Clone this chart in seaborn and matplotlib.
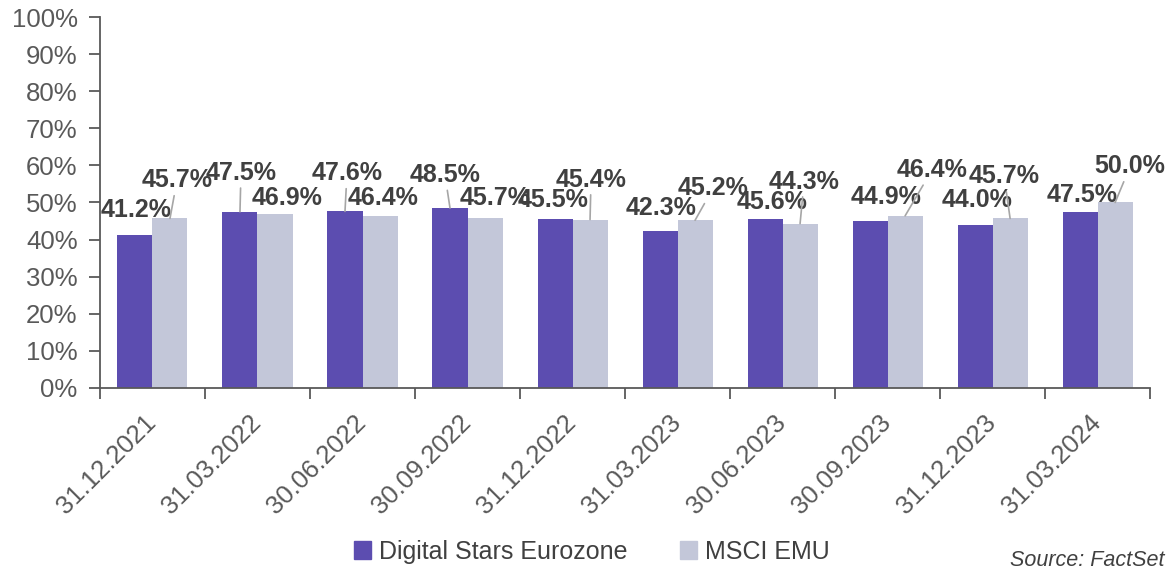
import matplotlib
matplotlib.use("Agg")
import matplotlib.pyplot as plt
import pandas as pd
import seaborn as sns
from matplotlib.ticker import FixedLocator, PercentFormatter

# data
dates = ["31.12.2021", "31.03.2022", "30.06.2022", "30.09.2022", "31.12.2022",
         "31.03.2023", "30.06.2023", "30.09.2023", "31.12.2023", "31.03.2024"]
digital_stars = [41.2, 47.5, 47.6, 48.5, 45.5, 42.3, 45.6, 44.9, 44.0, 47.5]
msci_emu = [45.7, 46.9, 46.4, 45.7, 45.4, 45.2, 44.3, 46.4, 45.7, 50.0]
series_names = ["Digital Stars Eurozone", "MSCI EMU"]

# label placement (pixel offsets from bar top) and whether a leader line is drawn
label_offsets = {
    0: [(1, 25), (1, 39), (2, 38), (-5, 33), (-2, 19), (1, 23), (7, 17), (16, 24), (2, 25), (2, 17)],
    1: [(7, 38), (12, 16), (3, 18), (10, 20), (1, 40), (18, 32), (4, 42), (27, 46), (-6, 42), (15, 36)],
}
leaders = {
    0: [False, True, True, True, False, False, False, False, False, False],
    1: [True, False, False, False, True, True, True, True, True, True],
}

df = pd.DataFrame({
    "date": dates * 2,
    "value": digital_stars + msci_emu,
    "series": [series_names[0]] * len(dates) + [series_names[1]] * len(dates),
})

sns.set_theme(style="white")
plt.rcParams["font.family"] = ["Liberation Sans", "DejaVu Sans"]

text_col = "#595959"
colors = ["#5C4DB0", "#C3C7D9"]
fig = plt.figure(figsize=(11.76, 5.73), dpi=100)
ax = fig.add_axes([0.085, 0.3229, 0.893, 0.6474])

sns.barplot(data=df, x="date", y="value", hue="series", ax=ax, width=0.667,
            palette=colors, saturation=1, legend=False, linewidth=0)

ax.set_ylim(0, 100)
ax.set_xlim(-0.5, len(dates) - 0.5)
ax.yaxis.set_major_locator(FixedLocator(range(0, 101, 10)))
ax.yaxis.set_major_formatter(PercentFormatter(decimals=0))
ax.set_xlabel("")
ax.set_ylabel("")

for side in ["top", "right"]:
    ax.spines[side].set_visible(False)
for side in ["left", "bottom"]:
    ax.spines[side].set_color("#595959")
    ax.spines[side].set_linewidth(1.3)

ax.tick_params(axis="y", direction="out", length=8, width=1.3, color="#595959",
               labelsize=18.5, labelcolor=text_col, pad=8, left=True)
ax.xaxis.set_minor_locator(FixedLocator([i - 0.5 for i in range(len(dates) + 1)]))
ax.tick_params(axis="x", which="minor", direction="out", length=8, width=1.3,
               color="#595959", bottom=True)
ax.tick_params(axis="x", which="major", length=0, labelsize=18.5, labelcolor=text_col, pad=22)
for lbl in ax.get_xticklabels():
    lbl.set_rotation(45)
    lbl.set_ha("right")
    lbl.set_va("center")
    lbl.set_rotation_mode("anchor")

for k, cont in enumerate(ax.containers):
    for i, bar in enumerate(cont):
        x = bar.get_x() + bar.get_width() / 2
        h = bar.get_height()
        arrow = dict(arrowstyle="-", color="#A6A6A6", lw=1.2, shrinkA=0, shrinkB=0) if leaders[k][i] else None
        ax.annotate(f"{h:.1f}%", xy=(x, h), xytext=label_offsets[k][i],
                    textcoords="offset pixels", ha="center", va="center",
                    fontsize=18, fontweight="bold", color="#404040",
                    arrowprops=arrow, annotation_clip=False)

handles = [plt.Rectangle((0, 0), 1, 1, color=c) for c in colors]
fig.legend(handles, series_names, loc="center", bbox_to_anchor=(0.503, 0.037), ncol=2,
           frameon=False, fontsize=18, handlelength=0.7, handleheight=0.7,
           handletextpad=0.3, columnspacing=2.1, labelcolor="#404040")

fig.text(0.99, 0.003, "Source: FactSet", ha="right", va="bottom", fontsize=15.5,
         style="italic", color="#404040")

fig.savefig("out.png", dpi=100)
plt.close(fig)
